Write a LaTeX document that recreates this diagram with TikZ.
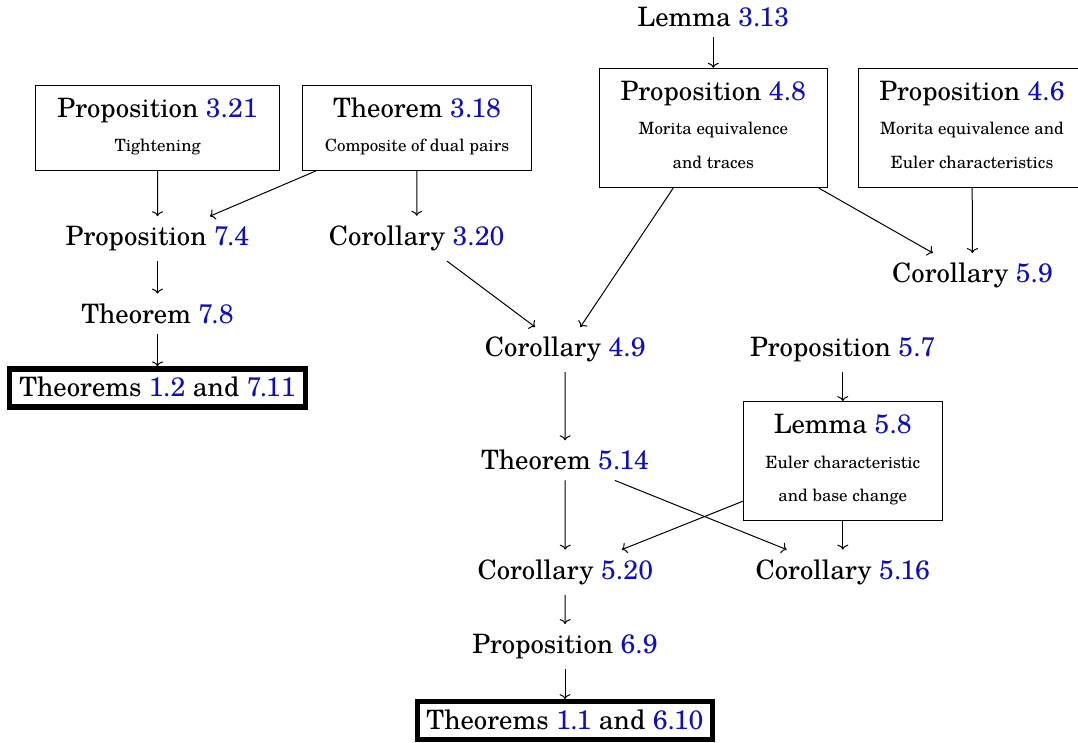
\documentclass[tikz,border=0pt]{standalone}
\usepackage{fontspec}
\setmainfont{TeX Gyre Schola}
\usetikzlibrary{arrows.meta}
\definecolor{refblue}{RGB}{15,15,190}
\newcommand{\rf}[1]{\textcolor{refblue}{#1}}
\begin{document}
\begin{tikzpicture}[x=0.5pt,y=-0.5pt,
  lbl/.style={font=\fontsize{13.35}{16}\selectfont, anchor=base, inner sep=4.8pt},
  ttl/.style={font=\fontsize{13.35}{16}\selectfont, anchor=base, inner sep=0pt},
  sub/.style={font=\fontsize{8.45}{10}\selectfont, anchor=base, inner sep=0pt},
  frame/.style={draw, line width=0.5pt, inner sep=0pt},
  final/.style={draw, line width=2.6pt, inner sep=0pt},
  arr/.style={-{To[length=2.5pt,width=5.5pt]}, line width=0.5pt}]
\useasboundingbox (0,0) rectangle (1078,743);

% boxes
\node[frame, minimum width=121.65pt, minimum height=42.75pt] (p321) at (157.6,127.8) {};
\node[ttl] (p321t) at (157.6,117.7) {Proposition \rf{3.21}};
\node[sub] (p321s) at (157.6,151.7) {Tightening};

\node[frame, minimum width=114.7pt, minimum height=42.75pt] (t318) at (417,127.8) {};
\node[ttl] (t318t) at (417,117.7) {Theorem \rf{3.18}};
\node[sub] (t318s) at (417,151.7) {Composite of dual pairs};

\node[frame, minimum width=114pt, minimum height=59.7pt] (p48) at (713.3,128) {};
\node[ttl] (p48t) at (713.3,100.5) {Proposition \rf{4.8}};
\node[sub] (p48s1) at (713.3,134.3) {Morita equivalence};
\node[sub] (p48s2) at (713.3,168.3) {and traces};

\node[frame, minimum width=114pt, minimum height=59.7pt] (p46) at (972,128) {};
\node[ttl] (p46t) at (972,100.5) {Proposition \rf{4.6}};
\node[sub] (p46s1) at (972,134.3) {Morita equivalence and};
\node[sub] (p46s2) at (972,168.3) {Euler characteristics};

\node[frame, minimum width=99.5pt, minimum height=59.65pt] (l58) at (842.8,461.3) {};
\node[ttl] (l58t) at (842.8,434) {Lemma \rf{5.8}};
\node[sub] (l58s1) at (842.8,468.3) {Euler characteristic};
\node[sub] (l58s2) at (842.8,501.7) {and base change};

\node[final, minimum width=148pt, minimum height=19pt] (th12) at (157.5,388) {};
\node[ttl] (th12t) at (157.5,396.7) {Theorems \rf{1.2} and \rf{7.11}};

\node[final, minimum width=147.5pt, minimum height=18.75pt] (th11) at (565,720.5) {};
\node[ttl] (th11t) at (565,729.3) {Theorems \rf{1.1} and \rf{6.10}};

% plain labels
\node[lbl] (l313) at (713.3,26.7) {Lemma \rf{3.13}};
\node[lbl] (p74) at (157.5,245.5) {Proposition \rf{7.4}};
\node[lbl] (c320) at (416.7,245.5) {Corollary \rf{3.20}};
\node[lbl] (c59) at (972.5,282.7) {Corollary \rf{5.9}};
\node[lbl] (t78) at (157.5,323.3) {Theorem \rf{7.8}};
\node[lbl] (c49) at (565.3,356.7) {Corollary \rf{4.9}};
\node[lbl] (p57) at (842.8,356.7) {Proposition \rf{5.7}};
\node[lbl] (t514) at (565,470) {Theorem \rf{5.14}};
\node[lbl] (c520) at (565.3,579.3) {Corollary \rf{5.20}};
\node[lbl] (c516) at (842.8,579.3) {Corollary \rf{5.16}};
\node[lbl] (p69) at (565,653.3) {Proposition \rf{6.9}};

% arrows
\draw[arr] (l313) -- (p48);
\draw[arr] (p321) -- (p74);
\draw[arr] (t318) -- (p74);
\draw[arr] (t318) -- (c320);
\draw[arr] (p48) -- (c49);
\draw[arr] (p48) -- (c59);
\draw[arr] (p46) -- (c59);
\draw[arr] (c320) -- (c49);
\draw[arr] (p74) -- (t78);
\draw[arr] (t78) -- (th12);
\draw[arr] (c49) -- (t514);
\draw[arr] (p57) -- (l58);
\draw[arr] (t514) -- (c520);
\draw[arr] (t514) -- (c516);
\draw[arr] (l58) -- (c520);
\draw[arr] (l58) -- (c516);
\draw[arr] (c520) -- (p69);
\draw[arr] (p69) -- (th11);
\end{tikzpicture}
\end{document}
